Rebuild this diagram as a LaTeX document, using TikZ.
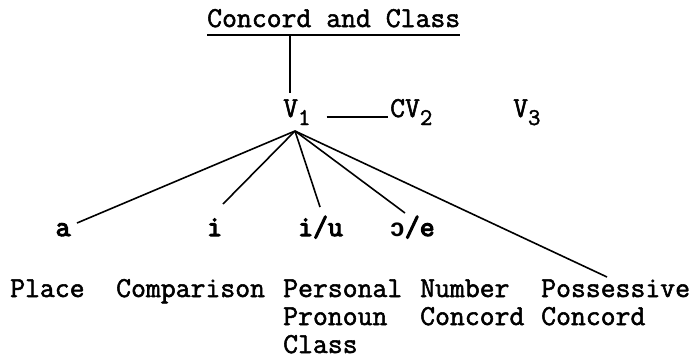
\documentclass[tikz,border=0pt]{standalone}
\usepackage{fontspec}
\setmainfont{Latin Modern Mono}[FakeBold=1.8]
\newfontfamily\vowelfont{Latin Modern Mono}[FakeBold=4]
\newfontfamily\ipafont{Liberation Mono}
\usetikzlibrary{positioning}
\tikzset{
    txt/.style={anchor=base west, inner sep=0pt, align=left,
                font=\fontsize{28.9}{28}\selectfont},
    vowel/.style={txt, font=\vowelfont\fontsize{28.9}{28}\selectfont},
    branch/.style={line width=1.6pt, black},
}
\newcommand{\low}[1]{\raisebox{-8pt}{\fontsize{24}{24}\selectfont #1}}

\begin{document}
\begin{tikzpicture}[x=1pt, y=-1pt]
    \useasboundingbox (0,0) rectangle (693,362);
    \node[txt] (title) at (207,27) {Concord and Class};
    \node[txt] (v1) at (283,117) {V\low{1}};
    \node[txt] (cv2) at (390,117) {CV\low{2}};
    \node[txt] (v3) at (513,117) {V\low{3}};
    \node[vowel] (a) at (55.5,236) {a};
    \node[vowel] (i) at (207,236) {i};
    \node[vowel] (iu) at (298,236) {i/u};
    \node[vowel] (oe) at (389.5,236) {{\ipafont\fontsize{25.3}{28}\selectfont\bfseries ɔ}/e};
    \node[txt] (place) at (10,297) {Place};
    \node[txt] (comp) at (116,297) {Comparison};
    \node[txt] (pers) at (283,353) {Personal\\Pronoun\\Class};
    \node[txt] (num) at (420,325) {Number\\Concord};
    \node[txt] (poss) at (541,325) {Possessive\\Concord};
    \coordinate (stem) at (290,93);
    \coordinate (fan) at (295,131);
    % underline and stem
    \draw[branch] ([yshift=-8pt]title.base west) -- ([yshift=-8pt]title.base east);
    \draw[branch] ([yshift=-8pt]title.base west -| stem) -- (stem);
    \draw[branch] ([xshift=16pt]v1.base east) -- ([xshift=-2pt]cv2.base west);
    % branches
    \draw[branch] (fan) -- ([shift={(21.5,-13)}]a.base west);
    \draw[branch] (fan) -- ([shift={(16,-32)}]i.base west);
    \draw[branch] (fan) -- ([shift={(22,-29)}]iu.base west);
    \draw[branch] (fan) -- ([shift={(15.5,-23)}]oe.base west);
    \draw[branch] (fan) -- ([shift={(66,-48)}]poss.base west);
\end{tikzpicture}
\end{document}
